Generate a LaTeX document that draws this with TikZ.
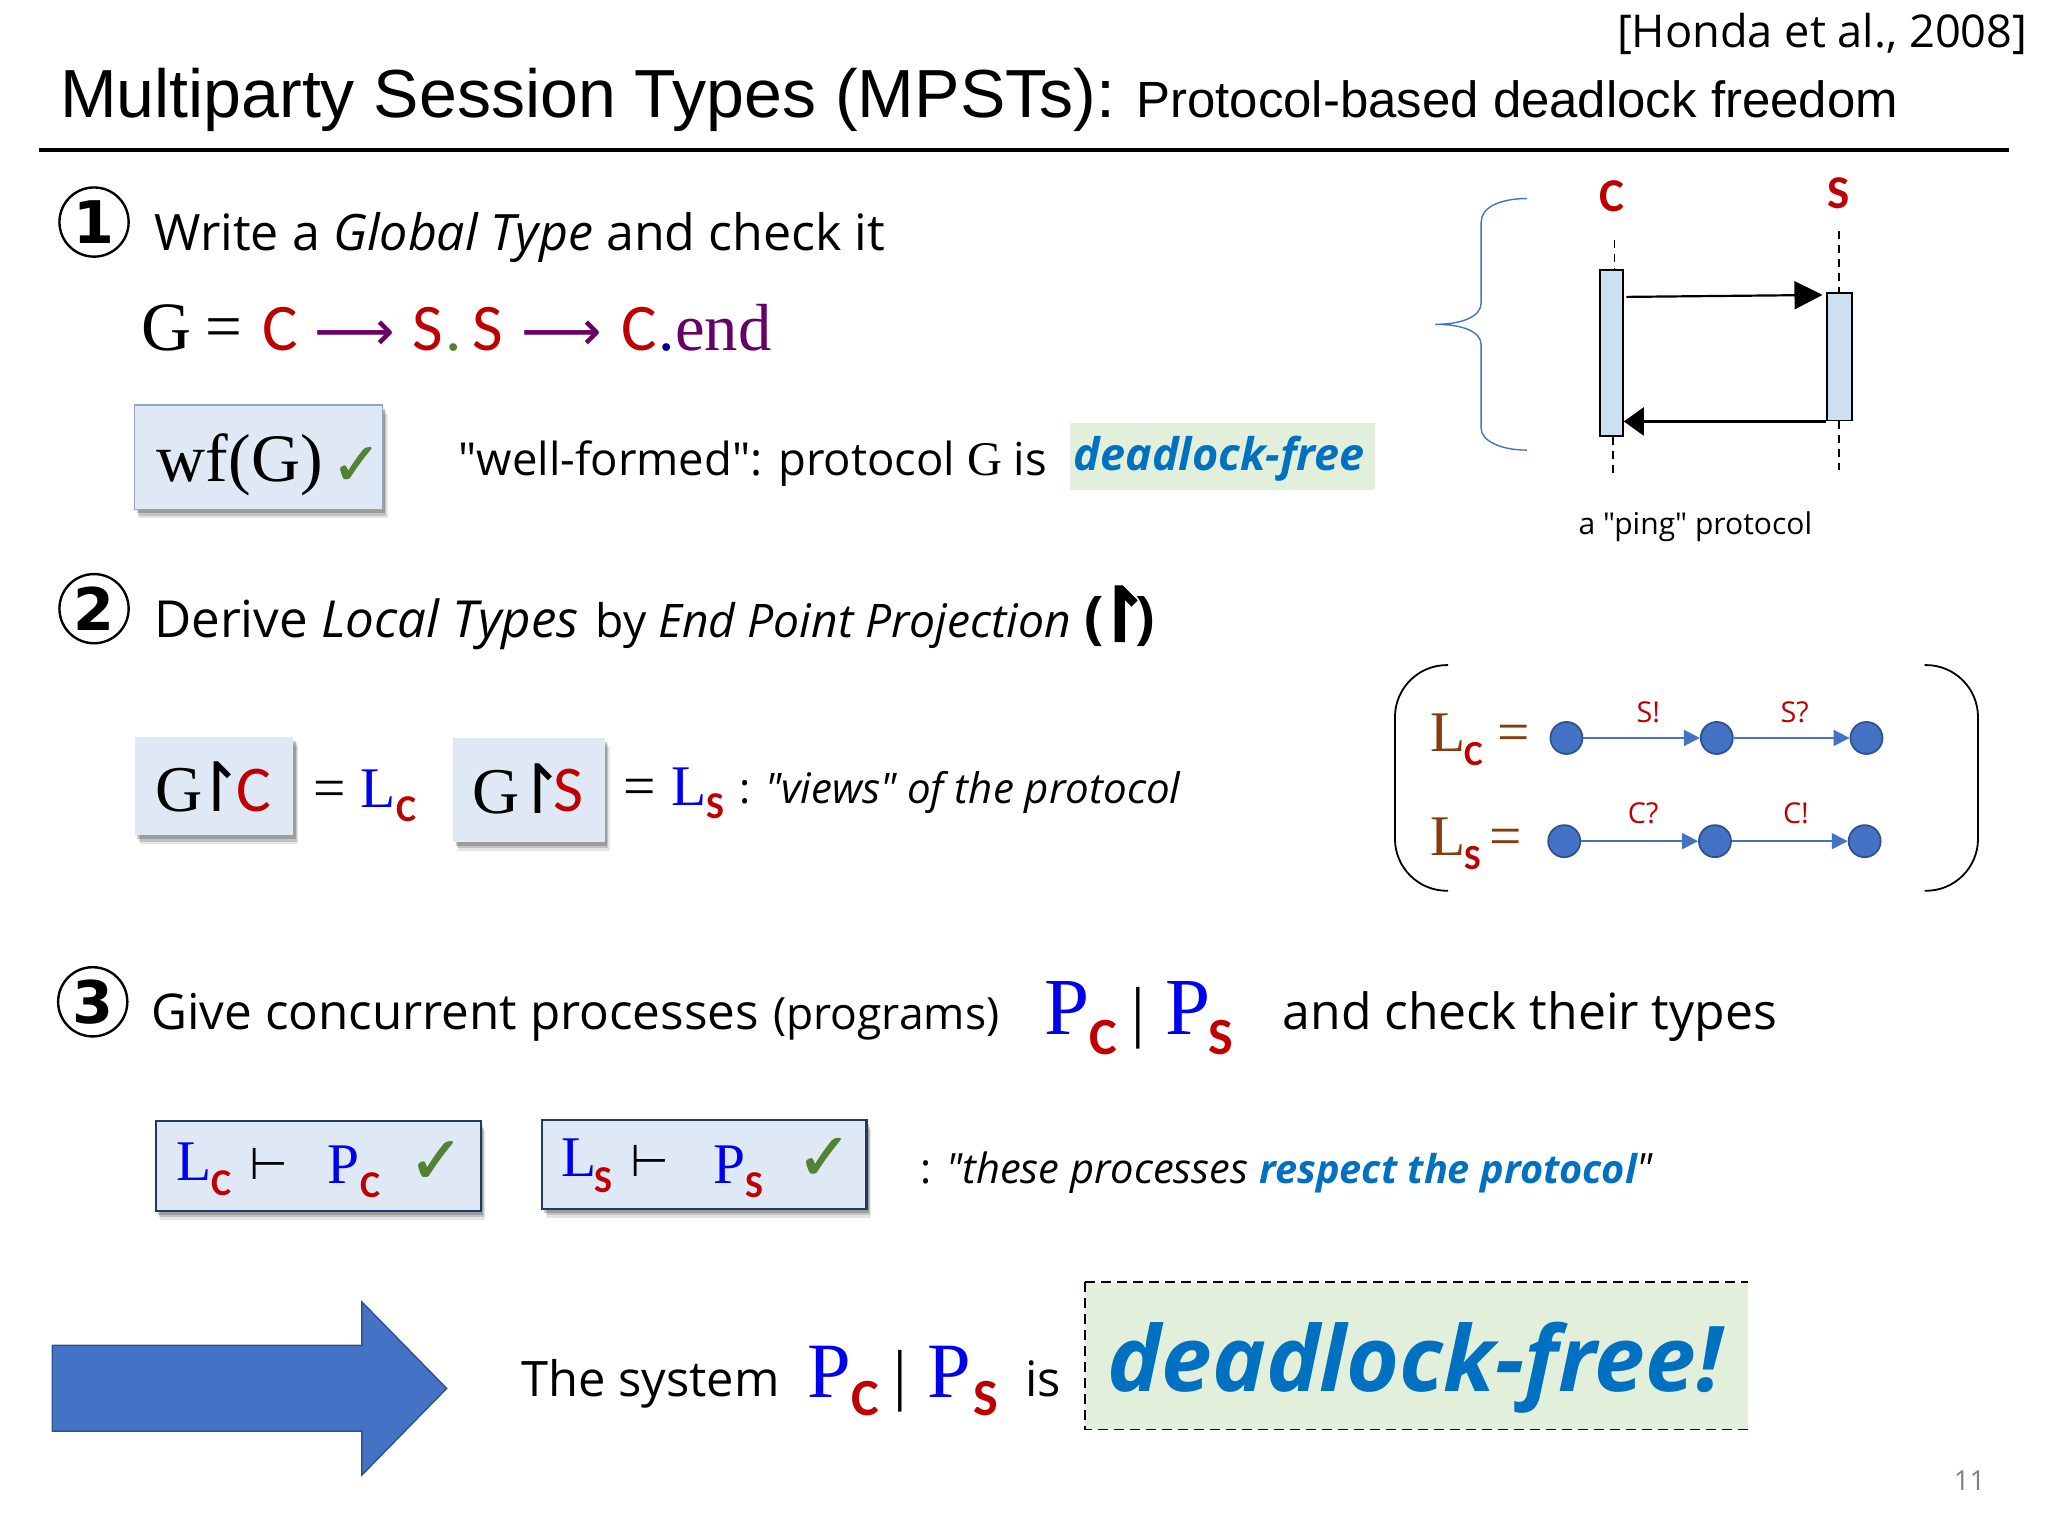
\documentclass[tikz,border=0pt]{standalone}
\usepackage{fontspec}
\usetikzlibrary{arrows.meta,shadows,calc}
\setmainfont[Ligatures=TeXOff]{Open Sans}
\newfontfamily\carl{Carlito}
\newfontfamily\tnr{Liberation Serif}
\newfontfamily\djv{DejaVu Sans}
\newfontfamily\chkf[FakeBold=1.6]{DejaVu Sans}
\newfontfamily\ars{Liberation Sans}
\definecolor{rd}{HTML}{C00000}
\definecolor{pur}{HTML}{660066}
\definecolor{blu}{HTML}{0000F0}
\definecolor{dfb}{HTML}{0070C0}
\definecolor{grn}{HTML}{548235}
\definecolor{brn}{HTML}{843C0C}
\definecolor{lblu}{HTML}{DEE9F5}
\definecolor{lgrn}{HTML}{E2EFDA}
\definecolor{acc}{HTML}{4472C4}
\definecolor{accd}{HTML}{2F528F}
\definecolor{bar}{HTML}{CCE0F2}
\definecolor{edge}{HTML}{8FA5C2}
\newcommand{\sz}[1]{\fontsize{\the\dimexpr #1pt*65306/100000\relax}{\the\dimexpr #1pt*78/100\relax}\selectfont}
\newcommand{\bx}[6]{\node[#2,minimum width={(#5-#3)*0.65306pt},minimum height={(#6-#4)*0.65306pt}] (#1) at ({(#3+#5)/2},{(#4+#6)/2}) {};}
\tikzset{
 x=0.65306pt,y=-0.65306pt,
 txt/.style={anchor=base west,inner sep=0pt,outer sep=0pt},
 softshadow/.style={drop shadow={shadow xshift=2.4pt,shadow yshift=-4.5pt,opacity=.10,fill=black},drop shadow={shadow xshift=1.8pt,shadow yshift=-3.2pt,opacity=.15,fill=black},drop shadow={shadow xshift=1.2pt,shadow yshift=-2pt,opacity=.20,fill=black}},
 plainbox/.style={rectangle,inner sep=0pt,fill=lblu,softshadow},
 thinbox/.style={plainbox,draw=edge,line width=.6pt},
 navybox/.style={plainbox,draw=accd!70!black,line width=1.1pt},
 greenbox/.style={rectangle,inner sep=0pt,fill=lgrn},
 barbox/.style={rectangle,inner sep=0pt,fill=bar,draw=black,line width=.9pt},
 num/.style={circle,draw=black,line width=1.2pt,minimum size=34.6pt,inner sep=0pt,font=\djv\sz{45}\bfseries},
 lifeline/.style={draw=black,line width=.8pt,dash pattern=on 4pt off 3pt},
 msg/.style={draw=black,line width=1.1pt},
 state/.style={circle,fill=acc,draw=accd,line width=.9pt,minimum size=16pt,inner sep=0pt},
 trans/.style={draw=acc,line width=.9pt,-{Triangle[length=8pt,width=8pt]},shorten >=0pt},
 slabel/.style={anchor=center,inner sep=0pt,text=rd,font=\sz{22}},
 subs/.style={txt,text=rd,font=\carl\sz{29}\bfseries},
 bigsub/.style={txt,text=rd,font=\carl\sz{40}\bfseries},
 ltr/.style={txt,text=blu,font=\tnr\sz{44}},
 chk/.style={txt,text=grn,font=\chkf\sz{50}},
 eqn/.style={txt,font=\tnr\sz{53}},
 eqc/.style={txt,text=rd,font=\carl\sz{51}},
 earrow/.style={txt,text=pur,font=\djv\sz{43}},
 boxc/.style={txt,text=rd,font=\carl\sz{50}},
 harp/.style={txt,font=\djv\sz{52}},
}
\begin{document}
\begin{tikzpicture}
\useasboundingbox (0,0) rectangle (1568,1176);
% header
\node[txt,font=\sz{34.6}] (cite) at (1238,36) {[Honda et al., 2008]};
\node[txt,font=\ars\sz{52.1}] (title) at (46,90) {Multiparty Session Types (MPSTs):};
\node[txt,font=\ars\sz{39}] (subtitle) at (870,90) {Protocol-based deadlock freedom};
\coordinate (rulea) at (30,115);
\coordinate (ruleb) at (1538,115);
\draw[line width=2pt] (rulea) -- (ruleb);
% step 1
\node[num] (n1) at (72,170) {1};
\node[txt,font=\sz{38.4}] (s1) at (118,192) {Write a \textit{Global Type} and check it};
\node[eqn] (g) at (108,268) {G};
\node[txt,font=\tnr\sz{50}] (geq) at (157,267) {=};
\node[eqc] (e1) at (201,268) {C};
\node[earrow] (a1) at (241,268) {⟶};
\node[eqc] (e2) at (316,268) {S};
\node[txt,text=grn,font=\tnr\sz{50}] (d1) at (341,268) {.};
\node[eqc] (e3) at (362,268) {S};
\node[earrow] (a2) at (399,268) {⟶};
\node[eqc] (e4) at (476,268) {C};
\node[txt,text=blue!60!black,font=\tnr\sz{50}] (d2) at (504,268) {.};
\node[txt,text=pur,font=\tnr\sz{51}] (eend) at (517,268) {end};
\bx{wfbox}{thinbox}{103}{310}{293}{390}
\node[txt,font=\tnr\sz{52}] (wf) at (120,368.8) {wf(G)};
\node[chk,font=\chkf\sz{45}] (wfc) at (254,371) {✓};
\node[txt,font=\sz{34.8}] (wfl) at (351,364) {"well-formed": protocol {\tnr\sz{37}G} is};
\bx{dfbox}{greenbox}{819}{324}{1053}{375}
\node[txt,text=dfb,font=\sz{34.4}\bfseries\itshape] (df) at (822,360) {deadlock-free};
% sequence chart
\coordinate (cltop) at (1236,184);
\coordinate (clbot) at (1235,362);
\coordinate (sltop) at (1408,177);
\coordinate (slbot) at (1408,360);
\bx{cbar}{barbox}{1225}{207}{1242.5}{334}
\bx{sbar}{barbox}{1399}{224.5}{1418}{322}
\draw[lifeline] (cltop) -- (cltop |- cbar.north);
\draw[lifeline] (clbot |- cbar.south) -- (clbot);
\draw[lifeline] (sltop) -- (sltop |- sbar.north);
\draw[lifeline] (slbot |- sbar.south) -- (slbot);
\draw[msg,-{Triangle[length=14pt,width=14pt]}] ([shift={(2,21)}]cbar.north east) -- ([shift={(-3,2)}]sbar.north west);
\draw[msg,-{Triangle[length=10pt,width=14pt]}] (sbar.south west) -- (cbar.east |- sbar.south);
\node[anchor=center,inner sep=0pt,text=rd,font=\carl\sz{36}\bfseries] (cl) at (1234,150) {C};
\node[anchor=center,inner sep=0pt,text=rd,font=\carl\sz{36}\bfseries] (sl) at (1408,148) {S};
\node[anchor=center,inner sep=0pt,font=\sz{23}] (ping) at (1298,403) {a "ping" protocol};
\coordinate (bt) at (1169,152);
\coordinate (bb) at (1169,344.6);
\coordinate (btip) at (1099,248.3);
\draw[acc,line width=.7pt] (bt) .. controls (1148,152) and (1134,159) .. (1134,170) -- (1134,232) .. controls (1134,242) and (1120,248.3) .. (btip) .. controls (1120,248.3) and (1134,254) .. (1134,264) -- (1134,328) .. controls (1134,337) and (1148,344.6) .. (bb);
% step 2
\node[num] (n2) at (72,466) {2};
\node[txt,font=\sz{39.1}] (s2) at (118,488) {Derive \textit{Local Types}};
\node[txt,font=\sz{35.4}] (s2b) at (456,488) {by \textit{End Point Projection}};
\node[txt,font=\sz{44}\bfseries] (s2c) at (830,488) {(\kern-7.8pt\raisebox{-2pt}{\chkf\sz{58}↾}\kern-8.2pt)};
\bx{gcbox}{plainbox}{103.3}{564}{224.5}{639.4}
\bx{gsbox}{plainbox}{347}{565}{463}{644.5}
\node[txt,font=\tnr\sz{50}] (gc) at (119,621) {G};
\node[harp] (gch) at (144,621) {↾};
\node[boxc] (gcc) at (181,621) {C};
\node[txt,font=\tnr\sz{50}] (gs) at (362,622.8) {G};
\node[harp] (gsh) at (390,622.8) {↾};
\node[boxc] (gss) at (424,621) {S};
\node[txt,font=\tnr\sz{44}] (eq1) at (240,618.6) {=};
\node[ltr] (lc) at (276,618) {L};
\node[subs] (lcs) at (303.7,629) {C};
\node[txt,font=\tnr\sz{44}] (eq2) at (477,616.8) {=};
\node[ltr] (ls) at (514,617) {L};
\node[subs] (lss) at (541,627) {S};
\node[txt,font=\sz{32.2}] (views) at (566,615) {: \textit{"views" of the protocol}};
% local type graphs
\coordinate (pl1) at (1108.7,509.2);
\coordinate (pl2) at (1108.7,682);
\coordinate (pr1) at (1473.6,509.2);
\coordinate (pr2) at (1473.6,682);
\draw[line width=.9pt,rounded corners=26pt] (pl1) -- (1068,509.2) -- (1068,682) -- (pl2);
\draw[line width=.9pt,rounded corners=26pt] (pr1) -- (1514.4,509.2) -- (1514.4,682) -- (pr2);
\node[txt,text=brn,font=\tnr\sz{44}] (lc2) at (1095,575) {L};
\node[subs,font=\carl\sz{27}\bfseries] (lc2s) at (1121,585.7) {C};
\node[txt,text=brn,font=\tnr\sz{44}] (lc2e) at (1146.5,575) {=};
\node[txt,text=brn,font=\tnr\sz{44}] (ls2) at (1095,655) {L};
\node[subs,font=\carl\sz{27}\bfseries] (ls2s) at (1121,665.4) {S};
\node[txt,text=brn,font=\tnr\sz{44}] (ls2e) at (1140.5,655) {=};
\node[state] (a) at (1199.3,565) {};
\node[state] (b) at (1314.4,565) {};
\node[state] (cc) at (1429,565) {};
\node[state] (dd) at (1197.6,644) {};
\node[state] (ee) at (1313,644) {};
\node[state] (ff) at (1427.6,644) {};
\draw[trans] (a) -- (b);
\draw[trans] (b) -- (cc);
\draw[trans] (dd) -- (ee);
\draw[trans] (ee) -- (ff);
\node[slabel] (t1) at (1262,545) {S!};
\node[slabel] (t2) at (1374,545) {S?};
\node[slabel] (t3) at (1258,623) {C?};
\node[slabel] (t4) at (1375,623) {C!};
% step 3
\node[num] (n3) at (71,767) {3};
\node[txt,font=\sz{37.8}] (s3) at (116,788) {Give concurrent processes};
\node[txt,font=\sz{34}] (s3b) at (592,788) {(programs)};
\node[txt,text=blu,font=\tnr\sz{62}] (p1) at (800,792) {P};
\node[bigsub] (p1s) at (834,807) {C};
\node[txt,font=\tnr\sz{52}] (bar1) at (866,792) {|};
\node[txt,text=blu,font=\tnr\sz{62}] (p2) at (892,792) {P};
\node[bigsub] (p2s) at (925,807) {S};
\node[txt,font=\sz{38.2}] (s3c) at (982,788) {and check their types};
\bx{lcbox}{navybox}{119.2}{858.4}{368}{927}
\bx{lsbox}{navybox}{415}{857.6}{663.4}{925.6}
\node[ltr] (bl1) at (134.8,903.6) {L};
\node[subs] (bl1s) at (161.6,915) {C};
\node[txt,font=\djv\sz{34}] (vd1) at (191,903) {⊢};
\node[ltr] (bp1) at (251,906) {P};
\node[subs] (bp1s) at (275.7,916.7) {C};
\node[chk] (bc1) at (313,905.5) {✓};
\node[ltr] (bl2) at (429.7,901) {L};
\node[subs] (bl2s) at (455,913) {S};
\node[txt,font=\djv\sz{34}] (vd2) at (483,901) {⊢};
\node[ltr] (bp2) at (546,906) {P};
\node[subs] (bp2s) at (570.7,917) {S};
\node[chk] (bc2) at (610,903) {✓};
\node[txt,font=\sz{31.9}] (resp) at (705,906) {: \textit{"these processes} {\sz{30.4}\color{dfb}\bfseries\itshape respect the protocol}\textit{"}};
% conclusion
\fill[acc,draw=accd,line width=.7pt] (40,1030) -- (277,1030) -- (277,996.7) -- (342,1063) -- (277,1129.4) -- (277,1095.7) -- (40,1095.7) -- cycle;
\node[txt,font=\sz{37.4}] (sys) at (399,1069) {The system};
\node[txt,text=blu,font=\tnr\sz{60}] (p3) at (618,1070) {P};
\node[bigsub] (p3s) at (652,1083.5) {C};
\node[txt,font=\tnr\sz{52}] (bar2) at (684,1070) {|};
\node[txt,text=blu,font=\tnr\sz{60}] (p4) at (710,1070) {P};
\node[bigsub] (p4s) at (745,1083.5) {S};
\node[txt,font=\sz{37.4}] (is) at (785,1069) {is};
\bx{dlbox}{greenbox}{831}{982}{1338}{1094}
\draw[line width=1.1pt,dash pattern=on 5pt off 3pt] (dlbox.north west) -- (dlbox.north east);
\draw[line width=.8pt,dash pattern=on 5pt off 3pt] (dlbox.north west) -- (dlbox.south west) -- (dlbox.south east);
\node[txt,text=dfb,font=\sz{69.5}\bfseries\itshape] (dl) at (848,1065) {deadlock-free!};
\node[txt,text=black!50,font=\sz{21}] (page) at (1496,1141) {11};
\end{tikzpicture}
\end{document}
